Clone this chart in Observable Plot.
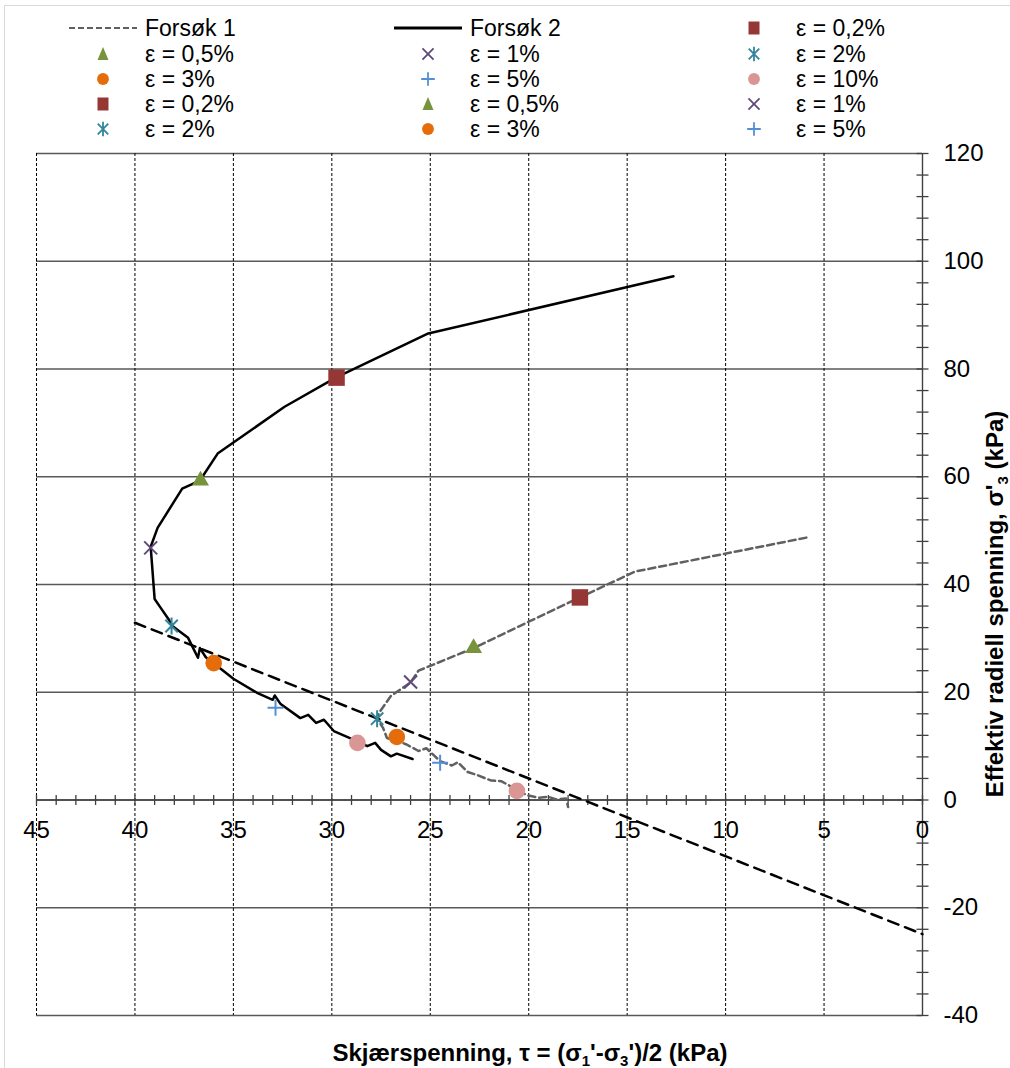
<!DOCTYPE html>
<html><head><meta charset="utf-8">
<script src="https://cdn.jsdelivr.net/npm/d3@7"></script>
<script src="https://cdn.jsdelivr.net/npm/@observablehq/plot@0.6"></script>
<style>
body{margin:0;background:#fff;font-family:"Liberation Sans",Arial,sans-serif;}
#wrap{position:relative;width:1010px;height:1068px;overflow:hidden;background:#fff;}
#frame{position:absolute;left:4px;top:5px;width:1030px;height:1090px;border:1px solid #d9d9d9;pointer-events:none;}
#legend{position:absolute;left:0;top:0;width:1010px;height:145px;z-index:2;}
.item{position:absolute;height:26px;line-height:26px;font-size:23px;color:#000;white-space:nowrap;}
.icon{position:absolute;}
#chart{position:absolute;left:0;top:0;}
</style></head>
<body>
<div id="wrap"><div id="frame"></div><div id="chart"></div><div id="legend"></div></div>
<script>
// ---------- data ----------
const xTickLabels = [45, 40, 35, 30, 25, 20, 15, 10, 5, 0];
const yTickLabels = [120, 100, 80, 60, 40, 20, 0, -20, -40];

// Forsøk 1 (tau, sigma'3)
const f1Tau = [5.9, 14.6, 17.4, 20.0, 22.8, 25.6, 26.0, 26.4, 27.0, 27.6, 27.7, 27.4, 27.2, 26.7, 26.2, 25.6, 25.2, 24.5, 23.9, 23.6, 23.1, 22.6, 21.9, 21.4, 21.1, 20.6, 20.1, 19.5, 19.0, 18.6, 18.1, 18.0];
const f1Sig = [48.7, 42.4, 37.6, 33.1, 28.2, 24.0, 21.8, 20.8, 19.3, 16.2, 15.1, 13.4, 11.5, 11.0, 10.3, 9.1, 9.6, 7.2, 6.4, 7.0, 5.2, 4.6, 3.6, 3.5, 2.9, 1.9, 0.9, 0.4, 0.6, 0.1, 0.3, -1.3];

// Forsøk 2 (tau, sigma'3)
const f2Tau = [12.65, 25.1, 29.8, 32.4, 35.8, 36.7, 37.6, 38.85, 39.2, 39.0, 38.7, 38.3, 38.1, 37.3, 37.1, 36.8, 36.7, 36.4, 36.0, 35.0, 33.8, 33.0, 32.9, 32.6, 31.6, 31.2, 30.8, 30.4, 29.9, 28.7, 28.2, 27.8, 27.5, 27.0, 26.7, 25.9];
const f2Sig = [97.2, 86.6, 78.4, 73.0, 64.3, 59.3, 57.8, 50.5, 47.0, 37.3, 35.7, 33.6, 32.3, 30.1, 28.6, 26.4, 28.2, 26.5, 25.4, 22.5, 19.9, 18.6, 19.4, 17.8, 15.2, 15.8, 14.3, 14.9, 12.8, 10.9, 10.0, 10.6, 9.3, 8.1, 8.6, 7.6];

// Failure line
const failTau = [40, 0];
const failSig = [32.9, -24.9];

// Strain markers
const epsLabels = ["0,2%", "0,5%", "1%", "2%", "3%", "5%", "10%"];
const f1MarkTau = [17.4, 22.8, 26.0, 27.7, 26.7, 24.5, 20.6];
const f1MarkSig = [37.6, 28.2, 21.9, 15.1, 11.7, 6.9, 1.7];
const f2MarkTau = [29.76, 36.67, 39.2, 38.14, 36.0, 32.86, 28.7];
const f2MarkSig = [78.4, 59.3, 46.8, 32.3, 25.4, 17.1, 10.6];

const legendLabels = ["Forsøk 1", "Forsøk 2", "ε = 0,2%", "ε = 0,5%", "ε = 1%", "ε = 2%", "ε = 3%", "ε = 5%", "ε = 10%", "ε = 0,2%", "ε = 0,5%", "ε = 1%", "ε = 2%", "ε = 3%", "ε = 5%"];
const legendKeys = ["f1", "f2", "0,2%", "0,5%", "1%", "2%", "3%", "5%", "10%", "0,2%", "0,5%", "1%", "2%", "3%", "5%"];

// ---------- styles ----------
function mk(draw){ return {draw}; }
const symTimes = mk((c)=>{const a=6.5;c.moveTo(-a,-a);c.lineTo(a,a);c.moveTo(-a,a);c.lineTo(a,-a);});
const symAst = mk((c)=>{const a=6.2,b=8.5;c.moveTo(-a,-a);c.lineTo(a,a);c.moveTo(-a,a);c.lineTo(a,-a);c.moveTo(0,-b);c.lineTo(0,b);});
const symPlus = mk((c)=>{const a=8;c.moveTo(-a,0);c.lineTo(a,0);c.moveTo(0,-a);c.lineTo(0,a);});
const symVTick = mk((c)=>{c.moveTo(0,-5);c.lineTo(0,5);});
const symHTick = mk((c)=>{c.moveTo(-6,0);c.lineTo(6,0);});

const epsStyle = {
  "0,2%": {color:"#953735", symbol:"square", r:9.3, filled:true},
  "0,5%": {color:"#77933C", symbol:"triangle", r:6.3, filled:true},
  "1%":   {color:"#604A7B", symbol:symTimes, r:5, filled:false},
  "2%":   {color:"#31859C", symbol:symAst, r:5, filled:false},
  "3%":   {color:"#E46C0A", symbol:"circle", r:8.3, filled:true},
  "5%":   {color:"#558ED5", symbol:symPlus, r:5, filled:false},
  "10%":  {color:"#D99694", symbol:"circle", r:8.3, filled:true}
};

const f1 = f1Tau.map((t,i)=>({tau:t, sig:f1Sig[i]}));
const f2 = f2Tau.map((t,i)=>({tau:t, sig:f2Sig[i]}));
const fail = failTau.map((t,i)=>({tau:t, sig:failSig[i]}));
const markers = [
  ...epsLabels.map((e,i)=>({eps:e, tau:f1MarkTau[i], sig:f1MarkSig[i]})),
  ...epsLabels.map((e,i)=>({eps:e, tau:f2MarkTau[i], sig:f2MarkSig[i]}))
];

const xMinor = d3.range(0, 46, 1);
const yMinor = d3.range(-40, 121, 4);
const xGrid = xTickLabels.filter(d=>d!==0);

const markerMarks = epsLabels.map(e=>{
  const s = epsStyle[e];
  return Plot.dot(markers.filter(d=>d.eps===e), {
    x:"tau", y:"sig", symbol: s.symbol, r: s.r,
    fill: s.filled ? s.color : "none",
    stroke: s.filled ? "none" : s.color,
    strokeWidth: 2
  });
});

const chart = Plot.plot({
  width: 1010, height: 1068,
  marginLeft: 36, marginRight: 88, marginTop: 153, marginBottom: 53,
  style: {fontFamily: '"Liberation Sans", Arial, sans-serif', background: "transparent"},
  x: {domain: [45, 0], axis: null},
  y: {domain: [-40, 120], axis: null},
  marks: [
    Plot.ruleY(yTickLabels, {stroke:"#595959", strokeWidth:1.6}),
    Plot.ruleX(xGrid, {stroke:"#000", strokeWidth:1, strokeDasharray:"3,2"}),
    Plot.ruleY([0], {stroke:"#404040", strokeWidth:1.4}),
    Plot.ruleX([0], {stroke:"#404040", strokeWidth:1.4}),
    Plot.dot(xMinor, {x:d=>d, y:()=>0, symbol: symVTick, stroke:"#404040", strokeWidth:1.3, fill:"none"}),
    Plot.dot(yMinor, {x:()=>0, y:d=>d, symbol: symHTick, stroke:"#404040", strokeWidth:1.3, fill:"none"}),
    Plot.text(xTickLabels, {x:d=>d, y:()=>0, text:d=>String(d), dy:30, fontSize:24, fill:"#000"}),
    Plot.text(yTickLabels, {x:()=>0, y:d=>d, text:d=>String(d), dx:21, textAnchor:"start", fontSize:24, fill:"#000"}),
    Plot.line(fail, {x:"tau", y:"sig", stroke:"#000", strokeWidth:2.5, strokeDasharray:"11,7"}),
    Plot.line(f1, {x:"tau", y:"sig", stroke:"#606060", strokeWidth:2.5, strokeDasharray:"7,4"}),
    Plot.line(f2, {x:"tau", y:"sig", stroke:"#000", strokeWidth:2.5}),
    ...markerMarks
  ]
});

// axis titles with subscripts
const svg = d3.select(chart);
const xt = svg.append("text").attr("x", 530).attr("y", 1061).attr("text-anchor","middle")
  .attr("font-size", 24).attr("font-weight","bold").attr("fill","#000");
xt.append("tspan").text("Skjærspenning, τ = (σ");
xt.append("tspan").attr("font-size",15).attr("dy",5).text("1");
xt.append("tspan").attr("dy",-5).text("'-σ");
xt.append("tspan").attr("font-size",15).attr("dy",5).text("3");
xt.append("tspan").attr("dy",-5).text("')/2 (kPa)");

const yt = svg.append("text").attr("transform","translate(1003,604) rotate(-90)").attr("text-anchor","middle")
  .attr("font-size", 24).attr("font-weight","bold").attr("fill","#000");
yt.append("tspan").text("Effektiv radiell spenning, σ'");
yt.append("tspan").attr("font-size",15).attr("dy",5).text("3");
yt.append("tspan").attr("dy",-5).text(" (kPa)");

document.getElementById("chart").appendChild(chart);

// ---------- legend ----------
const legend = document.getElementById("legend");
const colIcon = [103, 428, 754];
const colText = [145, 470, 796];
const rowY = [28, 54, 79, 104, 129];
function iconSvg(key){
  const ns = "http://www.w3.org/2000/svg";
  const s = document.createElementNS(ns, "svg");
  s.setAttribute("width", 80); s.setAttribute("height", 24);
  const g = document.createElementNS(ns, "g");
  g.setAttribute("transform", "translate(40,12)");
  s.appendChild(g);
  const p = document.createElementNS(ns, "path");
  if (key === "f1" || key === "f2") {
    p.setAttribute("d", "M-34,0H34");
    p.setAttribute("stroke", key === "f1" ? "#606060" : "#000");
    p.setAttribute("stroke-width", key === "f1" ? 2.2 : 2.8);
    if (key === "f1") p.setAttribute("stroke-dasharray", "6,3");
    p.setAttribute("fill", "none");
  } else {
    const st = epsStyle[key];
    let d;
    if (st.symbol === "square") d = "M-5.5,-6.5H5.5V6.5H-5.5Z";
    else if (st.symbol === "triangle") d = "M0,-7L5.5,6L-5.5,6Z";
    else if (st.symbol === "circle") d = d3.symbol(d3.symbolCircle, 110)();
    else {
      const path = d3.path();
      const sc = 0.85;
      const ctx = {moveTo:(x,y)=>path.moveTo(x*sc,y*sc), lineTo:(x,y)=>path.lineTo(x*sc,y*sc)};
      st.symbol.draw(ctx);
      d = path.toString();
    }
    p.setAttribute("d", d);
    if (st.filled) { p.setAttribute("fill", st.color); }
    else { p.setAttribute("fill", "none"); p.setAttribute("stroke", st.color); p.setAttribute("stroke-width", 1.8); }
  }
  g.appendChild(p);
  return s;
}
legendLabels.forEach((lab, i) => {
  const r = Math.floor(i / 3), c = i % 3;
  const ic = document.createElement("div");
  ic.className = "icon";
  ic.style.left = (colIcon[c] - 40) + "px";
  ic.style.top = (rowY[r] - 12) + "px";
  ic.appendChild(iconSvg(legendKeys[i]));
  legend.appendChild(ic);
  const t = document.createElement("div");
  t.className = "item";
  t.style.left = colText[c] + "px";
  t.style.top = (rowY[r] - 13) + "px";
  t.textContent = lab;
  legend.appendChild(t);
});
</script>
</body></html>
